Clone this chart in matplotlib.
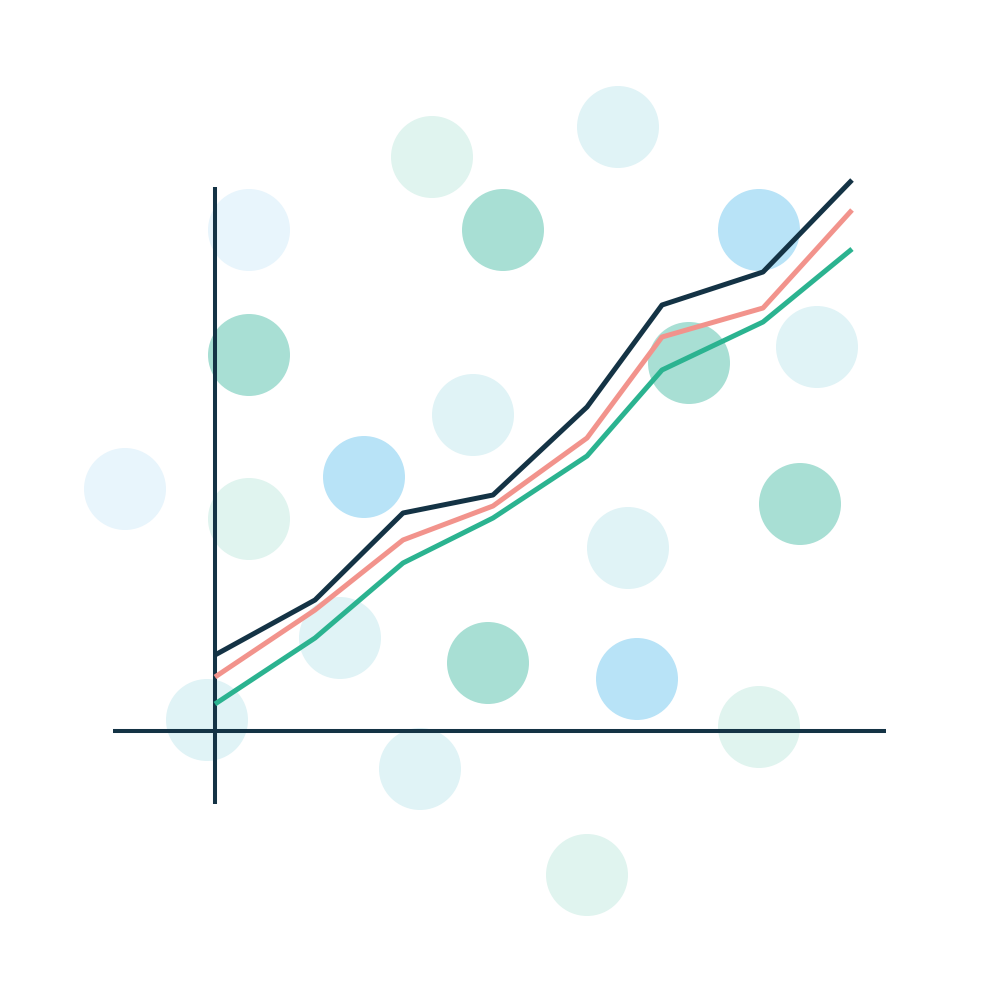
import matplotlib.pyplot as plt
from matplotlib.patches import Circle

# 三条折线 (x 相对原点)
line_x = [0, 100, 188, 278, 372, 447, 548, 637]
navy_y = [76, 131, 218, 236, 324, 426, 459, 551]
pink_y = [54, 121, 191, 225, 293, 394, 423, 521]
green_y = [27, 93, 168, 213, 275, 361, 409, 482]

# 背景圆点: 中心 x, y 和颜色类别
dot_x = [34, 217, 403, 288, 544, 34, 602, 258, 474, -90, 149, 34, 585, 413, 125, 273, 422, -8, 544, 205, 372]
dot_y = [501, 574, 604, 501, 501, 376, 384, 316, 368, 242, 254, 212, 227, 183, 93, 68, 52, 11, 4, -38, -144]
dot_kind = ['sky', 'mint', 'cyan', 'teal', 'blue', 'teal', 'cyan', 'cyan', 'teal', 'sky', 'blue',
            'mint', 'teal', 'cyan', 'cyan', 'teal', 'blue', 'cyan', 'mint', 'cyan', 'mint']

colors = {
    'sky': '#E8F5FC',
    'mint': '#E0F4EF',
    'cyan': '#E0F3F6',
    'teal': '#A8DFD4',
    'blue': '#B8E3F7',
}


def main():
    fig = plt.figure(figsize=(10.01, 10.01), dpi=100)
    ax = fig.add_axes([0, 0, 1, 1])
    ax.set_xlim(-215, 786)
    ax.set_ylim(-270, 731)
    ax.axis('off')

    for x, y, k in zip(dot_x, dot_y, dot_kind):
        ax.add_patch(Circle((x, y), 41, color=colors[k], lw=0, zorder=1))

    # 坐标轴
    ax.plot([0, 0], [-73, 544], color='#143345', lw=2.9, solid_capstyle='butt', zorder=2)
    ax.plot([-102, 671], [0, 0], color='#143345', lw=2.9, solid_capstyle='butt', zorder=2)

    ax.plot(line_x, green_y, color='#2BB390', lw=3.6, solid_capstyle='butt', zorder=3)
    ax.plot(line_x, pink_y, color='#F2938C', lw=3.6, solid_capstyle='butt', zorder=3)
    ax.plot(line_x, navy_y, color='#143345', lw=3.6, solid_capstyle='butt', zorder=3)

    fig.savefig('out.png', dpi=100, facecolor='white')


if __name__ == "__main__":
    main()
